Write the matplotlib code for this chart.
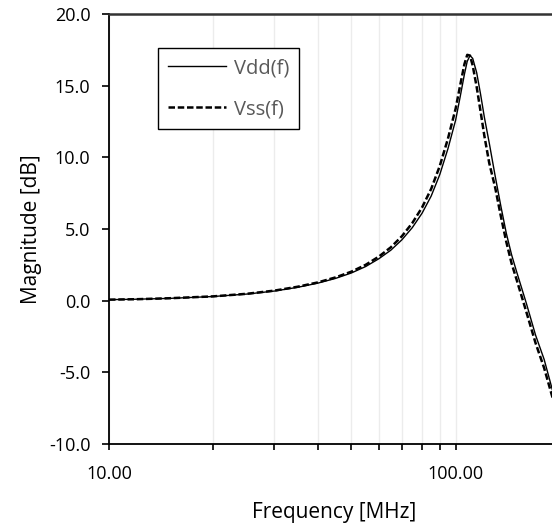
import matplotlib
matplotlib.use("Agg")
import matplotlib.pyplot as plt
from matplotlib.ticker import FixedLocator, FixedFormatter, NullFormatter

plt.rcParams['font.family'] = ['Open Sans', 'DejaVu Sans']
plt.rcParams['axes.unicode_minus'] = False

# frequency points [MHz]
freq = [10, 12, 15, 20, 25, 30, 35, 40, 45, 50, 55, 60, 65, 70, 75, 80, 85, 90, 95,
        100, 103, 106, 108, 110, 112, 115, 118, 121, 125, 130, 135, 140, 145, 150,
        160, 170, 180, 190, 200]

vdd = [0.07, 0.10, 0.16, 0.29, 0.46, 0.67, 0.93, 1.22, 1.55, 1.93, 2.38, 2.92, 3.52,
       4.25, 5.10, 6.10, 7.30, 8.80, 10.60, 12.60, 14.20, 15.80, 16.70, 17.10, 16.90,
       15.90, 14.40, 12.80, 11.00, 8.70, 6.60, 4.70, 3.20, 2.00, -0.20, -2.40, -4.10,
       -6.20, -8.00]

vss = [0.07, 0.10, 0.17, 0.30, 0.48, 0.70, 0.97, 1.27, 1.62, 2.02, 2.50, 3.07, 3.72,
       4.50, 5.42, 6.50, 7.80, 9.40, 11.30, 13.40, 15.00, 16.50, 17.15, 17.10, 16.40,
       14.90, 13.20, 11.50, 9.60, 7.90, 5.90, 4.10, 2.60, 1.45, -0.80, -2.95, -4.70,
       -6.70, -8.50]

x_major = [10, 100]
x_major_labels = ['10.00', '100.00']
x_minor = [20, 30, 40, 50, 60, 70, 80, 90, 200]
y_ticks = [-10, -5, 0, 5, 10, 15, 20]
y_tick_labels = ['-10.0', '-5.0', '0.0', '5.0', '10.0', '15.0', '20.0']

fig = plt.figure(figsize=(5.52, 5.24), dpi=100)
ax = fig.add_axes([0.1975, 0.1527, 0.817, 0.8206])

ax.plot(freq, vdd, color='black', lw=1.0, label='Vdd(f)')
ax.plot(freq, vss, color='black', lw=1.8, ls=(0, (2.6, 1.1)), label='Vss(f)')

ax.set_xscale('log')
ax.set_xlim(10, 200)
ax.set_ylim(-10, 20)

ax.xaxis.set_major_locator(FixedLocator(x_major))
ax.xaxis.set_major_formatter(FixedFormatter(x_major_labels))
ax.xaxis.set_minor_locator(FixedLocator(x_minor))
ax.xaxis.set_minor_formatter(NullFormatter())
ax.set_yticks(y_ticks)
ax.set_yticklabels(y_tick_labels)

ax.grid(True, which='both', axis='x', color='#ececec', lw=1.0)
ax.set_axisbelow(True)

ax.tick_params(axis='x', which='both', direction='out', length=4, width=1.2,
               pad=11, labelsize=13, colors='black')
ax.tick_params(axis='y', direction='out', length=5, width=1.2, pad=8.5,
               labelsize=13, colors='black')

for s in ['left', 'bottom']:
    ax.spines[s].set_color('black')
    ax.spines[s].set_linewidth(1.3)
ax.spines['top'].set_color('#333333')
ax.spines['top'].set_linewidth(1.8)
ax.spines['right'].set_visible(False)

ax.set_xlabel('Frequency [MHz]', fontsize=15, labelpad=14)
ax.set_ylabel('Magnitude [dB]', fontsize=15, labelpad=5)

leg = ax.legend(loc='upper left', bbox_to_anchor=(0.1086, 0.921), borderaxespad=0,
                fancybox=False, framealpha=1, edgecolor='black', fontsize=14.5,
                handlelength=2.9, labelspacing=1.05, borderpad=0.5, handletextpad=0.35)
leg.get_frame().set_linewidth(1.0)
for t in leg.get_texts():
    t.set_color('#595959')

fig.savefig('out.png', dpi=100)
